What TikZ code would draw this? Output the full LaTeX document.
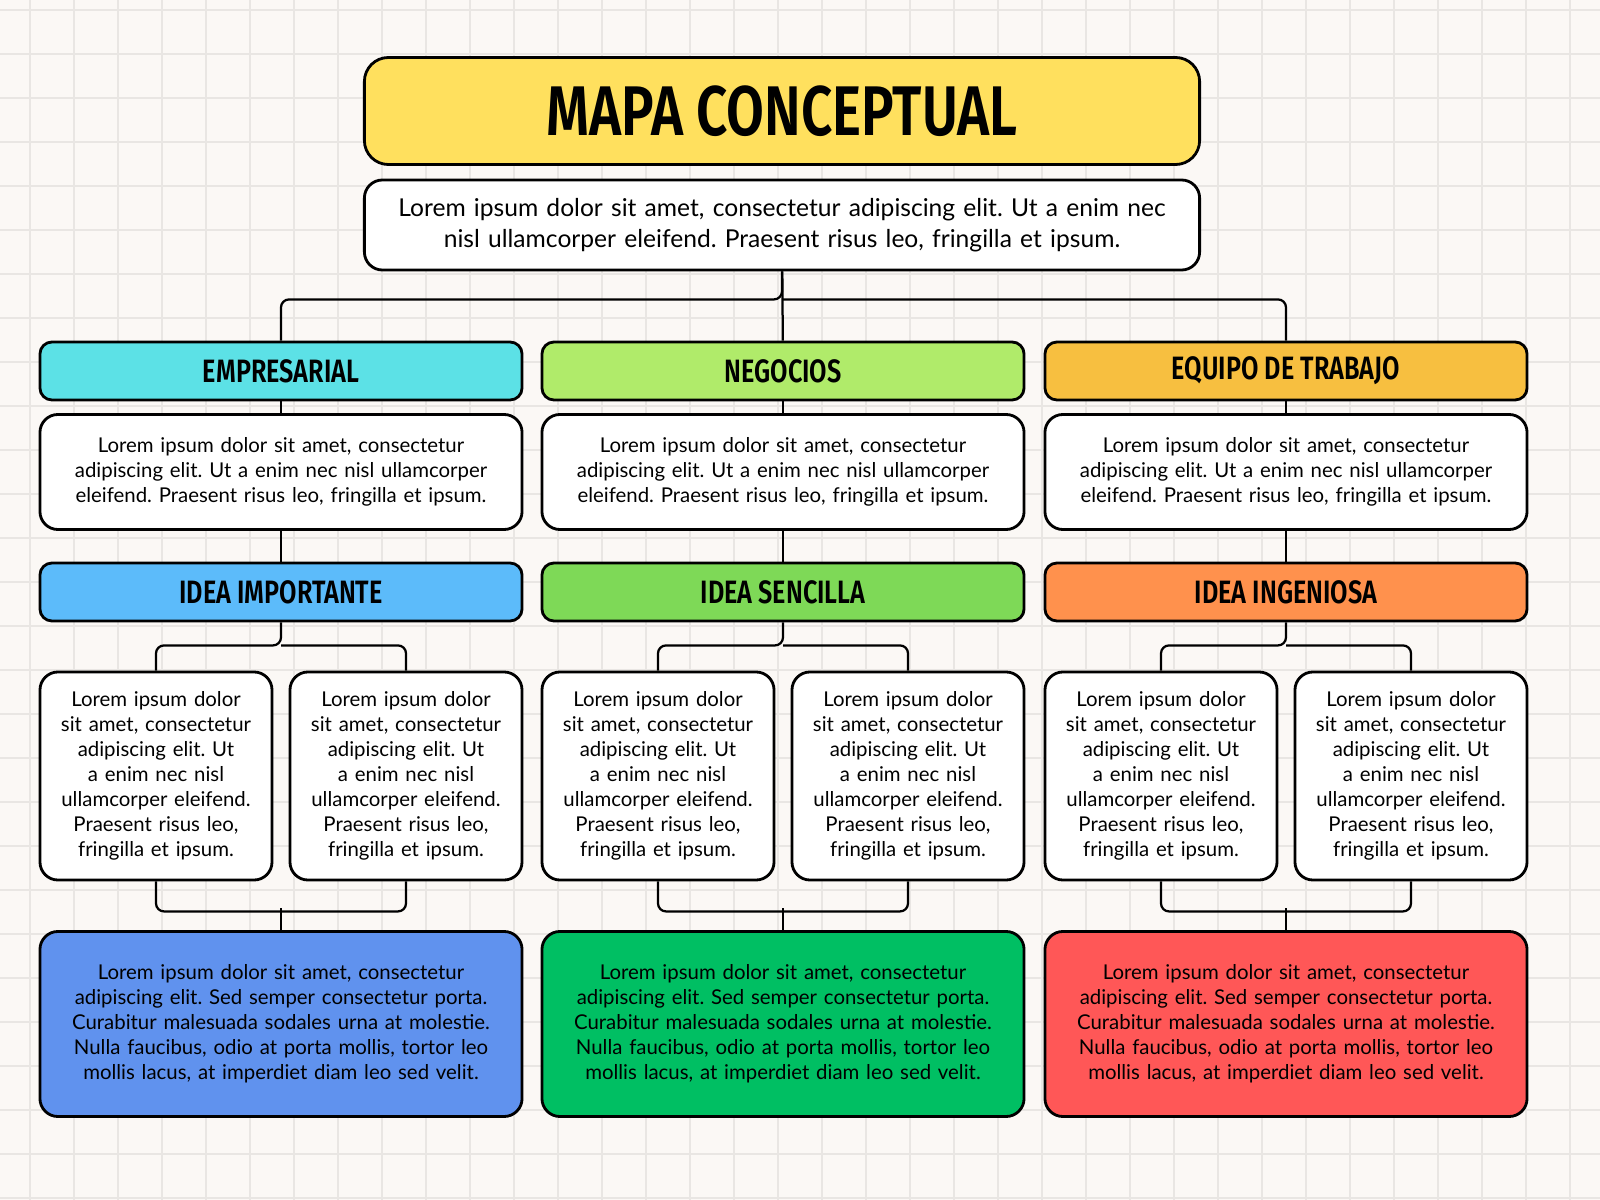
\documentclass[tikz,border=0pt]{standalone}
\usepackage{fontspec}
\setmainfont{Lato}
\newfontfamily\hand[FakeStretch=0.78]{Fira Sans SemiBold}
\usetikzlibrary{positioning}
\frenchspacing
\hyphenpenalty=10000
\definecolor{paper}{HTML}{FBF8F5}
\definecolor{gridc}{HTML}{E9E6E3}
\definecolor{ctitle}{HTML}{FFE05E}
\definecolor{hA}{HTML}{5CE1E6}
\definecolor{hB}{HTML}{B0EB6A}
\definecolor{hC}{HTML}{F7BF40}
\definecolor{iA}{HTML}{5CBBFA}
\definecolor{iB}{HTML}{7ED957}
\definecolor{iC}{HTML}{FF914D}
\definecolor{bA}{HTML}{6092EE}
\definecolor{bB}{HTML}{00BF63}
\definecolor{bC}{HTML}{FF5757}
\tikzstyle{box}=[rectangle,draw=black,line width=2pt,fill=white,rounded corners=0.45cm,align=center,inner sep=1mm]
\tikzstyle{head}=[box,minimum width=12.05cm,minimum height=1.45cm,rounded corners=0.3cm,font=\hand\fontsize{23}{26}\selectfont]
\tikzstyle{txt}=[box,minimum width=12.05cm,minimum height=2.875cm,text width=10.9cm,font=\fontsize{14.5}{17.8}\selectfont]
\tikzstyle{small}=[box,minimum width=5.8cm,minimum height=5.2cm,text width=5.4cm,font=\fontsize{14.5}{17.8}\selectfont]
\tikzstyle{big}=[box,minimum width=12.05cm,minimum height=4.625cm,text width=11.4cm,font=\fontsize{14.5}{17.8}\selectfont]
\tikzstyle{link}=[draw=black,line width=1.6pt,rounded corners=0.2cm]

\begin{document}
\begin{tikzpicture}[x=0.025cm,y=-0.025cm]
	\def \lorem {Lorem ipsum dolor sit amet, consectetur adipiscing elit. Ut a enim nec nisl ullamcorper eleifend. Praesent risus leo, fringilla et ipsum.};
	\def \lorembig {Lorem ipsum dolor sit amet, consectetur adipiscing elit. Sed semper consectetur porta. Curabitur malesuada sodales urna at molestie. Nulla faucibus, odio at porta mollis, tortor leo mollis lacus, at imperdiet diam leo sed velit.};

	% background paper
	\useasboundingbox (0,0) rectangle (1600,1200);
	\fill[paper] (0,0) rectangle (1600,1200);
	\foreach \g in {30,74,...,1600} {
		\draw[gridc, line width=0.8pt] (\g,0) -- (\g,1200);
	};
	\foreach \g in {10,54,...,1200} {
		\draw[gridc, line width=0.8pt] (0,\g) -- (1600,\g);
	};

	\node[box, fill=ctitle, minimum width=20.875cm, minimum height=2.675cm, rounded corners=0.6cm, font=\hand\fontsize{50}{56}\selectfont] (title) at (782,111) {MAPA CONCEPTUAL};
	\node[box, minimum width=20.875cm, minimum height=2.25cm, text width=20cm, font=\fontsize{17.5}{22}\selectfont] (intro) at (782,225) {Lorem ipsum dolor sit amet, consectetur adipiscing elit. Ut a enim nec\\ nisl ullamcorper eleifend. Praesent risus leo, fringilla et ipsum.};

	\foreach \c/\x/\hc/\ic/\bc/\hname/\iname in {1/281/hA/iA/bA/EMPRESARIAL/IDEA IMPORTANTE, 2/783/hB/iB/bB/NEGOCIOS/IDEA SENCILLA, 3/1286/hC/iC/bC/EQUIPO DE TRABAJO/IDEA INGENIOSA} {
		\node[head, fill=\hc] (head\c) at (\x,371) {\hname};
		\node[txt] (text\c) at (\x,472) {\lorem};
		\node[head, fill=\ic] (idea\c) at (\x,592) {\iname};
		\node[small] (left\c) at (\x-125,776) {\lorem};
		\node[small] (right\c) at (\x+125,776) {\lorem};
		\node[big, fill=\bc] (base\c) at (\x,1024) {\lorembig};

		\draw[link] (head\c) -- (text\c);
		\draw[link] (text\c) -- (idea\c);
		\draw[link] (idea\c.south) -- ++(0,23) -| (left\c.north);
		\draw[link] (idea\c.south) ++(0,23) -| (right\c.north);
		\draw[link] (left\c.south) -- ++(0,30) -| (right\c.south);
		\draw[link] (base\c.north) -- ++(0,-22);
	};

	\draw[link] (intro.south) -- ++(0,28) -| (head1.north);
	\draw[link] (intro.south) ++(0,28) -| (head3.north);
	\draw[link] (intro) -- (head2);
\end{tikzpicture}
\end{document}
